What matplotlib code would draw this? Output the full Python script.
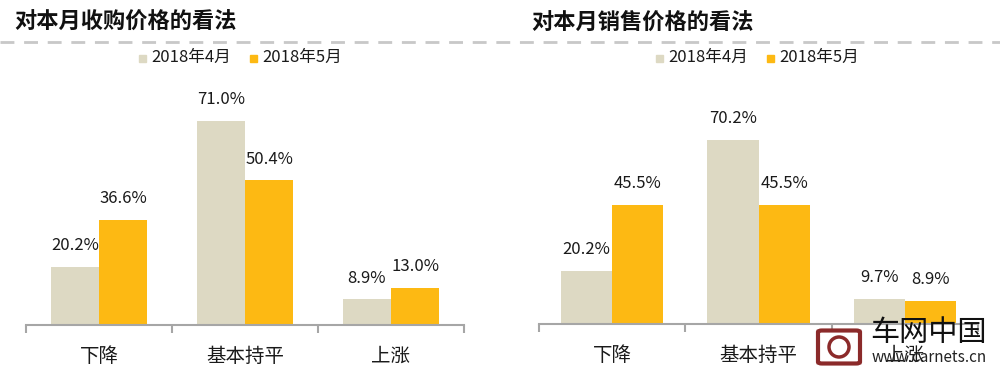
import numpy as np
import matplotlib
matplotlib.use('Agg')
import matplotlib.pyplot as plt
from matplotlib.lines import Line2D
from matplotlib.patches import Rectangle, FancyBboxPatch, Ellipse

plt.rcParams['font.family'] = ['Noto Sans CJK SC', 'DejaVu Sans']

# data
categories = ['下降', '基本持平', '上涨']
series_names = ['2018年4月', '2018年5月']
buy_apr = [20.2, 71.0, 8.9]
buy_may = [36.6, 50.4, 13.0]
sell_apr = [20.2, 70.2, 9.7]
sell_may = [45.5, 45.5, 8.9]

c_apr = '#DDD9C3'
c_may = '#FDB913'
axis_gray = '#A6A6A6'

W, H = 1000, 375
fig = plt.figure(figsize=(10, 3.75), dpi=100)

def fx(px):
    return px / W

def fy(py):
    return 1 - py / H

def draw_panel(rect, apr, may, bw, ymax):
    ax = fig.add_axes(rect)
    x = np.arange(len(categories))
    b1 = ax.bar(x - bw / 2, apr, bw, color=c_apr)
    b2 = ax.bar(x + bw / 2, may, bw, color=c_may)
    for bars in (b1, b2):
        for b in bars:
            ax.annotate('%.1f%%' % b.get_height(),
                        (b.get_x() + b.get_width() / 2, b.get_height()),
                        xytext=(0, 9), textcoords='offset points',
                        ha='center', va='bottom', fontsize=12, color='#1a1a1a')
    ax.set_xlim(-0.5, len(categories) - 0.5)
    ax.set_ylim(0, ymax)
    for s in ['top', 'right', 'left']:
        ax.spines[s].set_visible(False)
    ax.spines['bottom'].set_color(axis_gray)
    ax.spines['bottom'].set_linewidth(1.5)
    ax.set_yticks([])
    ax.set_xticks(np.arange(-0.5, len(categories)), minor=False)
    ax.set_xticklabels([])
    ax.tick_params(axis='x', length=6, width=1.5, color=axis_gray, direction='out')
    ax.set_xticks(x, minor=True)
    ax.set_xticklabels(categories, minor=True, fontsize=14, color='#1a1a1a')
    ax.tick_params(axis='x', which='minor', length=0, pad=15)
    return ax

# left panel: baseline y=325, x 26..464
draw_panel([fx(26), fy(325), fx(438), (325 - 95) / H], buy_apr, buy_may, 0.33, 80)
# right panel: baseline y=324, x 539..978
draw_panel([fx(539), fy(324), fx(439), (324 - 114) / H], sell_apr, sell_may, 0.35, 80)

# titles
fig.text(fx(14), fy(22), '对本月收购价格的看法', fontsize=16, fontweight='bold',
         ha='left', va='center', color='#111111')
fig.text(fx(531), fy(22), '对本月销售价格的看法', fontsize=16, fontweight='bold',
         ha='left', va='center', color='#111111')

# dashed separator
fig.add_artist(Line2D([0, 1], [fy(42), fy(42)], color='#C8C8C8', lw=2,
                      linestyle=(0, (5, 3.5))))

# legends
def legend_at(x0):
    for i, (name, col) in enumerate(zip(series_names, [c_apr, c_may])):
        xs = x0 + i * 111
        fig.add_artist(Rectangle((fx(xs), fy(62)), fx(7), 7 / H, color=col))
        fig.text(fx(xs + 12), fy(57), name, fontsize=12, ha='left', va='center',
                 color='#1a1a1a')

legend_at(139)
legend_at(656)

# watermark
fig.add_artist(FancyBboxPatch((fx(822), fy(362)), fx(34), 30 / H,
                              boxstyle='round,pad=0.004', fc='none', ec='#8B2A2A', lw=3))
fig.add_artist(Ellipse((fx(839), fy(347)), fx(20), 20 / H, fc='none', ec='#8B2A2A', lw=2.5))
fig.text(fx(870), fy(333), '车网中国', fontsize=21, ha='left', va='center', color='#111111')
fig.text(fx(872), fy(357), 'www.carnets.cn', fontsize=11, ha='left', va='center',
         color='#222222')

fig.savefig('out.png', dpi=100)
